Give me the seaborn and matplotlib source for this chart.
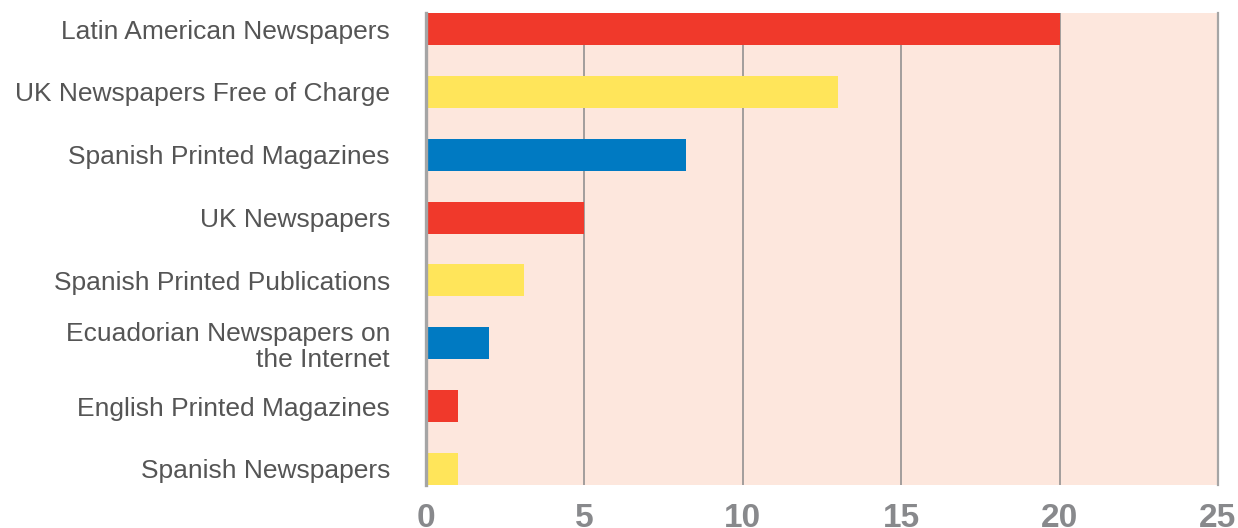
import matplotlib
matplotlib.use("Agg")
import matplotlib.pyplot as plt
import seaborn as sns
import pandas as pd

categories = [
    "Latin American Newspapers",
    "UK Newspapers Free of Charge",
    "Spanish Printed Magazines",
    "UK Newspapers",
    "Spanish Printed Publications",
    "Ecuadorian Newspapers on\nthe Internet",
    "English Printed Magazines",
    "Spanish Newspapers",
]
values = [20, 13, 8.2, 5, 3.1, 2, 1, 1]
bar_colors = ["#f0392b", "#ffe55a", "#007ac2", "#f0392b",
              "#ffe55a", "#007ac2", "#f0392b", "#ffe55a"]
x_ticks = [0, 5, 10, 15, 20, 25]

df = pd.DataFrame({"category": categories, "value": values})

sns.set_style("white")
plt.rcParams["font.family"] = ["Liberation Sans", "DejaVu Sans"]

fig = plt.figure(figsize=(12.38, 5.28), dpi=100)
ax = fig.add_axes([0.3441, 0.0814, 0.6397, 0.894])

sns.barplot(data=df, y="category", x="value", hue="category",
            palette=bar_colors, orient="h", width=0.51,
            legend=False, ax=ax, saturation=1,
            edgecolor="none", linewidth=0)

ax.set_facecolor("#fde7dd")
ax.set_xlim(0, 25)
ax.set_ylim(7.255, -0.255)
ax.set_xticks(x_ticks)
ax.set_axisbelow(True)
ax.grid(axis="x", color="#8a8a8a", linewidth=1.1)
ax.grid(axis="y", visible=False)

for side in ["top", "bottom"]:
    ax.spines[side].set_visible(False)
ax.spines["left"].set_color("#a5a5a5")
ax.spines["left"].set_linewidth(2.4)
ax.spines["right"].set_color("#a5a5a5")
ax.spines["right"].set_linewidth(1.6)

ax.set_xlabel("")
ax.set_ylabel("")
ax.tick_params(axis="x", length=0, pad=13, labelsize=24, labelcolor="#88898c")
for lbl in ax.get_xticklabels():
    lbl.set_fontweight("bold")
ax.tick_params(axis="y", length=0, pad=26, labelsize=19, labelcolor="#555555")
for lbl in ax.get_yticklabels():
    lbl.set_linespacing(1.1)

fig.savefig("out.png", dpi=100)
